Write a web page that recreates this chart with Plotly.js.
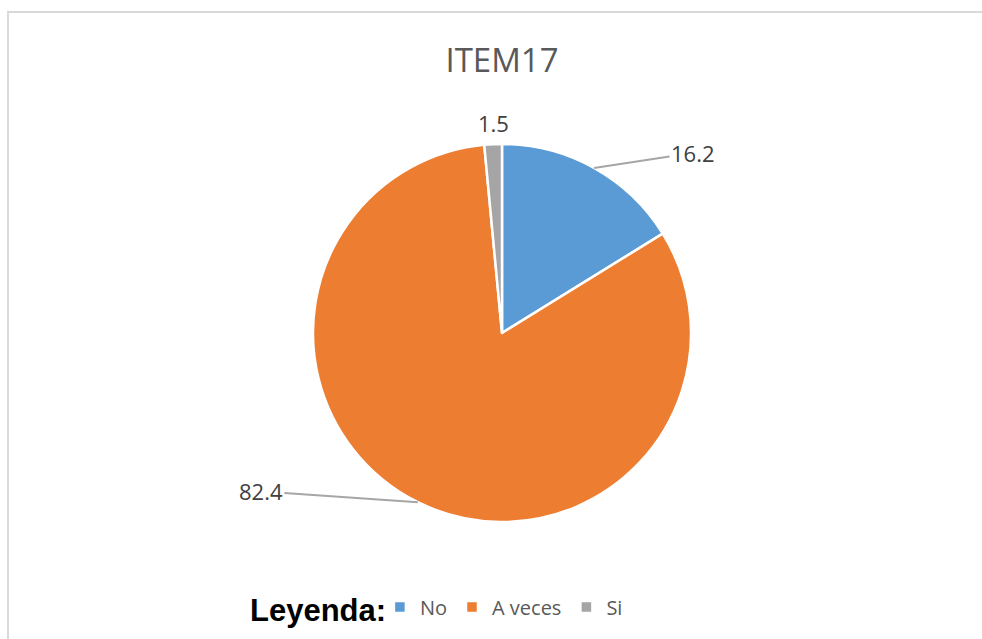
<!DOCTYPE html>
<html>
<head>
<meta charset="utf-8">
<script src="https://cdn.plot.ly/plotly-3.0.1.min.js"></script>
<style>
  html, body { margin: 0; padding: 0; background: #ffffff; }
  #wrap { position: relative; width: 982px; height: 639px; overflow: hidden; }
  #frame { position: absolute; left: 7px; top: 11px; width: 990px; height: 660px;
           border-top: 2px solid #d9d9d9; border-left: 2px solid #d9d9d9; }
  #chart { position: absolute; left: 0; top: 0; width: 982px; height: 639px; }
</style>
</head>
<body>
<div id="wrap">
  <div id="frame"></div>
  <div id="chart"></div>
</div>
<script>
// ---- data ----
const categories = ["No", "A veces", "Si"];
const values = [16.2, 82.4, 1.5];
const colors = ["#5B9BD5", "#ED7D31", "#A5A5A5"];
const chartTitle = "ITEM17";
const legendTitle = "Leyenda:";

// label offsets (pixels, relative to slice edge midpoint) – layout only
const labelOffsets = [
  { ax: 99, ay: -15, arrow: true },
  { ax: -157, ay: -11, arrow: true },
  { ax: 0, ay: 0, arrow: false }
];

const total = values.reduce((a, b) => a + b, 0);
let cum = 0;
const annotations = [];
values.forEach((v, i) => {
  const mid = (cum + v / 2) / total * 2 * Math.PI; // clockwise from 12 o'clock
  cum += v;
  const px = 0.5 + 0.5 * Math.sin(mid);
  const py = 0.5 + 0.5 * Math.cos(mid);
  const o = labelOffsets[i];
  if (o.arrow) {
    annotations.push({
      x: px, y: py, xref: "paper", yref: "paper",
      text: String(v), showarrow: true, arrowhead: 0, arrowwidth: 2,
      arrowcolor: "#A6A6A6", ax: o.ax, ay: o.ay, standoff: 0, startstandoff: 0,
      font: { family: "Open Sans, sans-serif", size: 22, color: "#404040" }
    });
  } else {
    annotations.push({
      x: px, y: py, xref: "paper", yref: "paper",
      text: String(v), showarrow: false, xanchor: "center", yanchor: "bottom", yshift: 4,
      font: { family: "Open Sans, sans-serif", size: 22, color: "#404040" }
    });
  }
});

annotations.push({
  x: -0.172, y: -0.233, xref: "paper", yref: "paper",
  xanchor: "left", yanchor: "middle", showarrow: false,
  text: "<b>" + legendTitle + "</b>",
  font: { family: "Liberation Sans, Arial, sans-serif", size: 31, color: "#000000" }
});

const trace = {
  type: "pie",
  labels: categories,
  values: values,
  sort: false,
  direction: "clockwise",
  rotation: 0,
  textinfo: "none",
  hoverinfo: "label+value",
  marker: { colors: colors, line: { color: "#ffffff", width: 2.5 } }
};

const layout = {
  width: 982, height: 639,
  margin: { l: 313, r: 291, t: 144, b: 117 },
  paper_bgcolor: "rgba(0,0,0,0)",
  plot_bgcolor: "rgba(0,0,0,0)",
  title: {
    text: chartTitle,
    x: 0.5, xref: "paper", xanchor: "center",
    y: 1 - 60 / 639, yref: "container", yanchor: "middle",
    font: { family: "Open Sans, sans-serif", size: 33, color: "#595959" }
  },
  showlegend: true,
  legend: {
    orientation: "h",
    x: 0.177, xanchor: "left",
    y: -0.225, yanchor: "middle",
    font: { family: "Open Sans, sans-serif", size: 20, color: "#595959" },
    bgcolor: "rgba(0,0,0,0)",
    traceorder: "normal"
  },
  annotations: annotations
};

Plotly.newPlot("chart", [trace], layout, { displayModeBar: false, staticPlot: true });
</script>
</body>
</html>
